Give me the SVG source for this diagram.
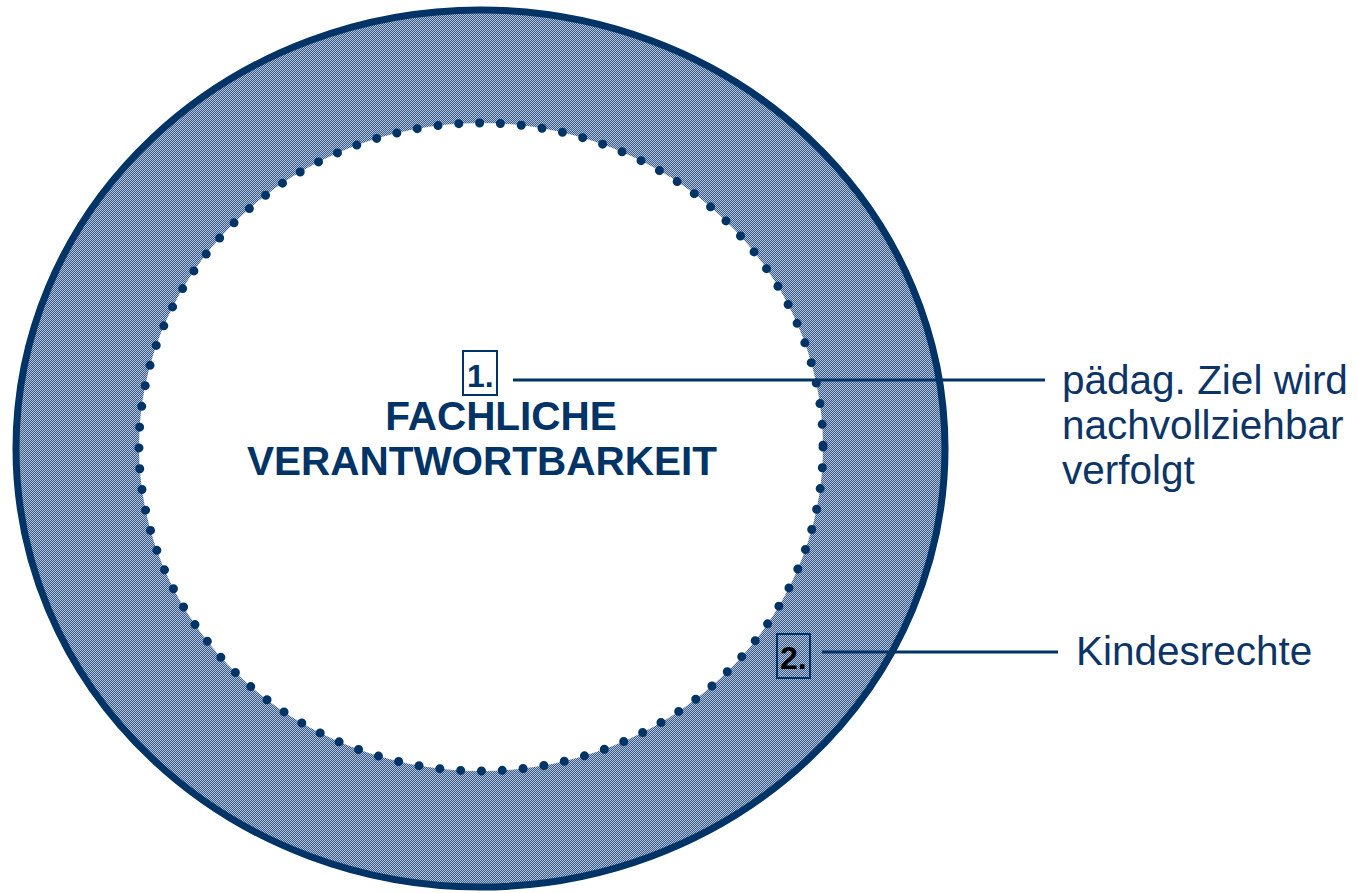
<svg xmlns="http://www.w3.org/2000/svg" width="1358" height="893" viewBox="0 0 1358 893">
  <defs>
    <pattern id="hatch" width="2" height="2" patternUnits="userSpaceOnUse">
      <rect width="2" height="2" fill="#385b8a"/>
      <rect x="0" y="0" width="1" height="1" fill="#b4c3d8"/>
      <rect x="1" y="1" width="1" height="1" fill="#b4c3d8"/>
    </pattern>
  </defs>
  <style>
    .lbl { font-family: "Liberation Sans", Arial, sans-serif; font-size: 40.5px; fill: #0d3466; }
    .title { font-family: "Liberation Sans", Arial, sans-serif; font-size: 40.5px; font-weight: bold; fill: #003366; text-anchor: middle; }
    .num { font-family: "Liberation Sans", Arial, sans-serif; font-size: 32px; font-weight: bold; }
    .conn { stroke: #003366; stroke-width: 3; fill: none; }
    .box { fill: none; stroke: #003366; stroke-width: 2; }
  </style>
  <rect width="1358" height="893" fill="#ffffff"/>
  <g id="ring">
    <ellipse cx="480.5" cy="448.5" rx="464.5" ry="438.5" fill="url(#hatch)" stroke="#003366" stroke-width="7"/>
    <ellipse cx="481" cy="447" rx="342" ry="324" fill="#ffffff"/>
    <ellipse cx="481" cy="447" rx="342" ry="324" fill="none" stroke="#003366" stroke-width="9" stroke-linecap="round" stroke-dasharray="0 20.9"/>
  </g>
  <g id="center-title">
    <text class="title" x="501" y="430">FACHLICHE</text>
    <text class="title" x="482" y="475">VERANTWORTBARKEIT</text>
  </g>
  <g id="node1">
    <rect class="box" x="463" y="351" width="34" height="44"/>
    <text class="num" x="467" y="387" fill="#003366">1.</text>
  </g>
  <g id="node2">
    <rect class="box" x="777" y="634" width="33" height="44"/>
    <text class="num" x="780" y="669" fill="#000000">2.</text>
  </g>
  <g id="connectors">
    <line class="conn" x1="513" y1="380" x2="1045" y2="380"/>
    <line class="conn" x1="822" y1="652" x2="1058" y2="652"/>
  </g>
  <g id="label1">
    <text class="lbl" x="1062" y="394">pädag. Ziel wird</text>
    <text class="lbl" x="1062" y="439">nachvollziehbar</text>
    <text class="lbl" x="1062" y="484">verfolgt</text>
  </g>
  <g id="label2">
    <text class="lbl" x="1076" y="665">Kindesrechte</text>
  </g>
</svg>
